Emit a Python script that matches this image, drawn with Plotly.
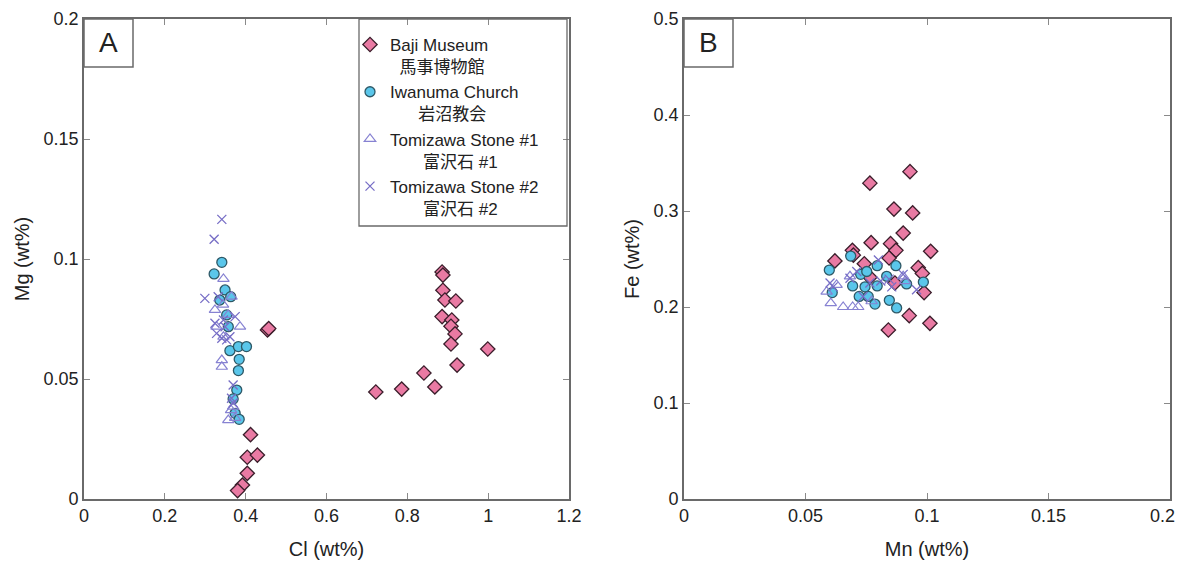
import plotly.graph_objects as go

# ---------------- Panel A: Cl vs Mg ----------------
baji_cl = [0.454, 0.457, 0.412, 0.404, 0.429, 0.404, 0.392, 0.380,
           0.722, 0.786, 0.841, 0.868, 0.886, 0.888, 0.888, 0.893, 0.920,
           0.886, 0.910, 0.908, 0.918, 0.908, 0.999, 0.923]
baji_mg = [0.0704, 0.0710, 0.0268, 0.0174, 0.0183, 0.0107, 0.0058, 0.0035,
           0.0446, 0.0458, 0.0525, 0.0467, 0.0946, 0.0933, 0.0870, 0.0829, 0.0825,
           0.0760, 0.0746, 0.0720, 0.0688, 0.0646, 0.0625, 0.0558]

iwa_cl = [0.341, 0.322, 0.349, 0.363, 0.336, 0.353, 0.357, 0.361, 0.382, 0.402,
          0.384, 0.382, 0.378, 0.369, 0.374, 0.384]
iwa_mg = [0.0986, 0.0938, 0.0871, 0.0843, 0.0829, 0.0767, 0.0718, 0.0618, 0.0635, 0.0635,
          0.0582, 0.0535, 0.0454, 0.0417, 0.0357, 0.0332]

tz1_cl = [0.345, 0.365, 0.324, 0.344, 0.357, 0.386, 0.328, 0.345, 0.341, 0.341,
          0.369, 0.357, 0.374, 0.364]
tz1_mg = [0.0917, 0.0843, 0.0788, 0.0810, 0.0767, 0.0718, 0.0718, 0.0676, 0.0579, 0.0551,
          0.0385, 0.0329, 0.0338, 0.0370]

tz2_cl = [0.341, 0.322, 0.299, 0.332, 0.374, 0.324, 0.345, 0.328, 0.341, 0.353,
          0.361, 0.349, 0.369, 0.365, 0.369]
tz2_mg = [0.1165, 0.1082, 0.0836, 0.0843, 0.0760, 0.0732, 0.0746, 0.0690, 0.0670, 0.0663,
          0.0676, 0.0718, 0.0475, 0.0420, 0.0400]

# ---------------- Panel B: Mn vs Fe ----------------
baji_mn = [0.0930, 0.0765, 0.0864, 0.0941, 0.0902, 0.0770, 0.0850, 0.0872, 0.1015, 0.0693,
           0.0621, 0.0697, 0.0844, 0.0742, 0.0964, 0.0981, 0.0765, 0.0868, 0.0988, 0.0927,
           0.1012, 0.0841]
baji_fe = [0.341, 0.329, 0.302, 0.298, 0.277, 0.267, 0.266, 0.259, 0.258, 0.259,
           0.248, 0.254, 0.251, 0.245, 0.241, 0.235, 0.231, 0.225, 0.215, 0.191,
           0.183, 0.176]

iwa_mn = [0.0598, 0.0686, 0.0727, 0.0752, 0.0795, 0.0872, 0.0834, 0.0694, 0.0745, 0.0795,
          0.0916, 0.0985, 0.0610, 0.0721, 0.0758, 0.0786, 0.0845, 0.0875]
iwa_fe = [0.2385, 0.253, 0.234, 0.237, 0.243, 0.243, 0.232, 0.222, 0.221, 0.222,
          0.224, 0.226, 0.215, 0.211, 0.211, 0.203, 0.207, 0.199]

tz1_mn = [0.0587, 0.0604, 0.0655, 0.0694, 0.0717, 0.0628, 0.0683, 0.0902, 0.0910, 0.0772]
tz1_fe = [0.216, 0.204, 0.200, 0.200, 0.200, 0.223, 0.232, 0.232, 0.227, 0.206]

tz2_mn = [0.0601, 0.0614, 0.0683, 0.0711, 0.0800, 0.0765, 0.0810, 0.0844, 0.0855, 0.0957,
          0.0902, 0.0737]
tz2_fe = [0.225, 0.221, 0.230, 0.237, 0.249, 0.225, 0.227, 0.229, 0.221, 0.218,
          0.234, 0.211]

# tick values / labels of panel B x axis
mn_tickvals = [0, 0.05, 0.1, 0.15, 0.2]
mn_ticktext = ["0", "0.05", "0.1", "0.15", "0.2"]

NB = "\u00a0"
names = ["Baji Museum<br>" + NB * 2 + "馬事博物館",
         "Iwanuma Church<br>" + NB * 6 + "岩沼教会",
         "Tomizawa Stone #1<br>" + NB * 7 + "富沢石 #1",
         "Tomizawa Stone #2<br>" + NB * 7 + "富沢石 #2"]

styles = [
    dict(symbol="diamond", size=11, color="#e97aa3", line=dict(color="#3b1e2b", width=1.3)),
    dict(symbol="circle", size=10, color="#5ac6ea", line=dict(color="#2e5866", width=1.3)),
    dict(symbol="triangle-up-open", size=10, color="#8782d2", line=dict(color="#8782d2", width=1.2)),
    dict(symbol="x-thin-open", size=9, color="#776ec6", line=dict(color="#776ec6", width=1.3)),
]

dataA = [(baji_cl, baji_mg), (iwa_cl, iwa_mg), (tz1_cl, tz1_mg), (tz2_cl, tz2_mg)]
dataB = [(baji_mn, baji_fe), (iwa_mn, iwa_fe), (tz1_mn, tz1_fe), (tz2_mn, tz2_fe)]

fig = go.Figure()
for i, ((xa, ya), (xb, yb)) in enumerate(zip(dataA, dataB)):
    fig.add_trace(go.Scatter(x=xa, y=ya, mode="markers", name=names[i], marker=styles[i],
                             legendgroup=str(i), xaxis="x", yaxis="y"))
    fig.add_trace(go.Scatter(x=xb, y=yb, mode="markers", name=names[i], marker=styles[i],
                             legendgroup=str(i), showlegend=False, xaxis="x2", yaxis="y2"))

# page body has an 8px margin; size the figure so page pixels match the target
OX, OY = 8, 8
W, H = 1178, 552


def px(x):
    return (x - OX) / W


def py(y):
    return (H - (y - OY)) / H


TOP, BOT = 19, 499
ydom = [py(BOT), py(TOP)]
FONT = "Liberation Sans, Arial, Noto Sans CJK JP, sans-serif"
axis_common = dict(showline=True, linecolor="#6a6a6a", linewidth=1.6, mirror="ticks",
                   ticks="inside", ticklen=6, tickcolor="#8a8a8a", tickwidth=1,
                   showgrid=False, zeroline=False, automargin=False,
                   ticklabeloverflow="allow",
                   tickfont=dict(size=18, color="#222", family=FONT))
title_font = dict(size=20, color="#222", family=FONT)

# keep the last label of panel B inside the visible page edge
mn_ticktext_disp = mn_ticktext[:-1] + [mn_ticktext[-1] + NB * 3]

fig.update_layout(
    width=W, height=H,
    margin=dict(l=0, r=0, t=0, b=0, autoexpand=False),
    paper_bgcolor="white", plot_bgcolor="white",
    font=dict(family=FONT, color="#222"),
    xaxis=dict(domain=[px(84), px(569)], range=[0, 1.2], dtick=0.2, anchor="y",
               title=dict(text="Cl (wt%)", font=title_font, standoff=18), **axis_common),
    yaxis=dict(domain=ydom, range=[0, 0.2], dtick=0.05, anchor="x",
               title=dict(text="Mg (wt%)", font=title_font, standoff=9), **axis_common),
    xaxis2=dict(domain=[px(684), px(1170)], range=[0, 0.2], anchor="y2",
                tickmode="array", tickvals=mn_tickvals, ticktext=mn_ticktext_disp,
                title=dict(text="Mn (wt%)", font=title_font, standoff=18), **axis_common),
    yaxis2=dict(domain=ydom, range=[0, 0.5], dtick=0.1, anchor="x2",
                title=dict(text="Fe (wt%)", font=title_font, standoff=9), **axis_common),
    legend=dict(x=px(350), y=py(TOP + 8), xanchor="left", yanchor="top",
                borderwidth=0, bgcolor="rgba(0,0,0,0)",
                font=dict(size=17, color="#222", family=FONT), valign="top",
                tracegroupgap=0, itemwidth=30),
    showlegend=True,
)

# legend frame
fig.add_shape(type="rect", xref="paper", yref="paper",
              x0=px(359), x1=px(567), y0=py(226), y1=py(TOP),
              line=dict(color="#6a6a6a", width=1.3), fillcolor="rgba(0,0,0,0)", layer="above")

# panel label boxes
for x0px, label in [(84, "A"), (684, "B")]:
    fig.add_shape(type="rect", xref="paper", yref="paper",
                  x0=px(x0px), x1=px(x0px + 49), y0=py(67), y1=py(TOP),
                  line=dict(color="#6a6a6a", width=1.5), fillcolor="white", layer="above")
    fig.add_annotation(xref="paper", yref="paper", x=px(x0px + 24.5), y=py(43),
                       text=label, showarrow=False, xanchor="center", yanchor="middle",
                       font=dict(size=28, color="#222", family=FONT))

fig.write_html("out.html")
